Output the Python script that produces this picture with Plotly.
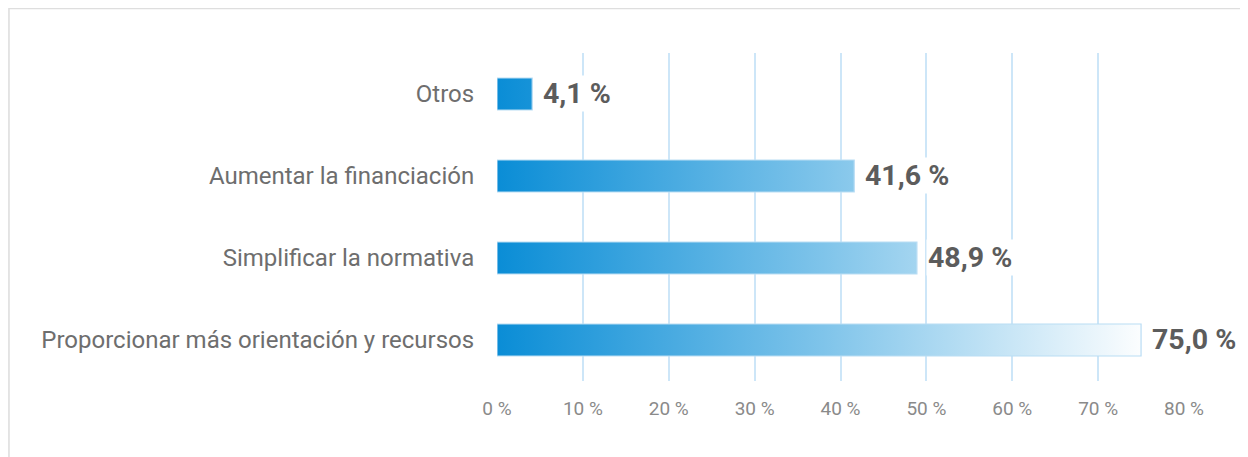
import plotly.graph_objects as go

categories = ["Proporcionar más orientación y recursos", "Simplificar la normativa",
              "Aumentar la financiación", "Otros"]
values = [75.0, 48.9, 41.6, 4.1]
x_ticks = [0, 10, 20, 30, 40, 50, 60, 70, 80]

W, H = 1248, 457
# the page body adds an 8px offset, margins are measured from there
L, R, T, B = 489, 72, 45, 84
half = 0.195

fig = go.Figure()
for i, (cat, v) in enumerate(zip(categories, values)):
    fig.add_trace(go.Scatter(
        x=[0, v, v, 0, 0], y=[i - half, i - half, i + half, i + half, i - half],
        mode="lines", fill="toself", name=cat, showlegend=False,
        line=dict(color="#b9ddf4", width=1.2),
        fillgradient=dict(type="horizontal", start=0, stop=76,
                          colorscale=[[0, "#0a8dd6"], [0.5, "#7fc4ea"], [1, "#ffffff"]]),
        hoverinfo="text", text=f"{cat}: {v:.1f} %".replace(".", ","),
    ))
    fig.add_annotation(x=v, y=i, xanchor="left", xshift=9, yshift=1, showarrow=False,
                       text=f"<b>{v:.1f} %</b>".replace(".", ","),
                       font=dict(size=28.5, color="#5c5c5c", family="Roboto"),
                       bgcolor="white", borderpad=1)

# card edge
pw, ph = W - L - R, H - T - B
fig.add_shape(type="rect", xref="paper", yref="paper", layer="below",
              x0=(1 - L) / pw, x1=(W + 5 - L) / pw,
              y0=(-5 - B) / ph, y1=(H - 0.5 - B) / ph,
              fillcolor="white", line=dict(color="#dedede", width=1.5))

fig.update_layout(
    width=W, height=H, margin=dict(l=L, r=R, t=T, b=B),
    paper_bgcolor="#f2f2f2", plot_bgcolor="rgba(0,0,0,0)",
    font=dict(family="Roboto", color="#6b6b6b"),
    xaxis=dict(range=[0, 80], tickvals=x_ticks, ticktext=[f"{t} %" for t in x_ticks],
               showgrid=True, gridcolor="#cde6f8", gridwidth=1.5, zeroline=False,
               showline=False, tickfont=dict(size=19, color="#8a8a8a"), ticks="outside",
               ticklen=10, tickcolor="rgba(0,0,0,0)", fixedrange=True),
    yaxis=dict(range=[-0.5, 3.5], tickvals=list(range(len(categories))), ticktext=categories,
               showgrid=False, zeroline=False, showline=False,
               tickfont=dict(size=24, color="#6e6e6e"), ticks="outside", ticklen=17,
               tickcolor="rgba(0,0,0,0)", fixedrange=True),
)

fig.write_html("out.html")
